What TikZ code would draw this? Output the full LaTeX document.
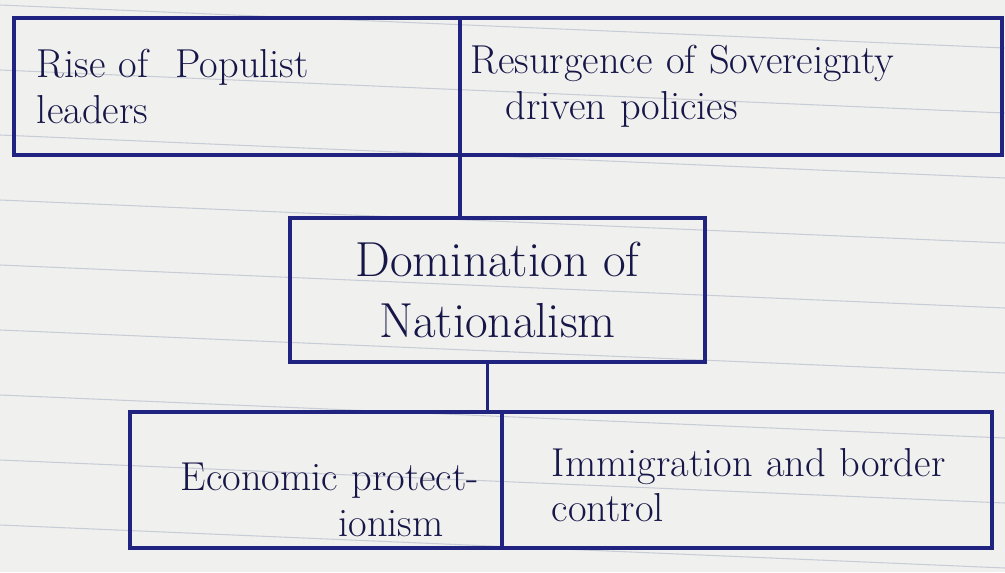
\documentclass[tikz,border=0pt]{standalone}
\usepackage{tikz}
\usetikzlibrary{positioning}
\definecolor{ink}{RGB}{32,36,128}
\definecolor{pen}{RGB}{22,22,72}
\definecolor{paper}{RGB}{240,240,238}
\definecolor{ruling}{RGB}{200,204,214}
\tikzset{
  cell/.style={draw=ink, line width=2pt, outer sep=0pt, inner ysep=4pt,
    align=left, text=pen, font=\fontsize{23}{26}\selectfont},
  link/.style={draw=ink, line width=2pt}
}
\begin{document}
\begin{tikzpicture}[x=0.02cm, y=-0.02cm]
		%%%%% PAPER %%%%%
		\fill[paper] (0, 0) rectangle (1005, 572);
		\useasboundingbox (0, 0) rectangle (1005, 572);
		\foreach \k in {0,...,8}
			\draw[ruling, line width=0.6pt] (0, {5+65*\k}) -- (1005, {48+65*\k});
		
		%%%%% TOP ROW %%%%%
		\node[cell, anchor=north west, minimum width=8.92cm, minimum height=2.74cm,
			text width=8.0cm] (rise) at (14, 18) {Rise of \ Populist\\leaders\\[-8pt]};
		\node[cell, minimum width=10.84cm, minimum height=2.74cm,
			text width=10.4cm, right=0pt of rise.north east, anchor=north west] (resurgence)
			{Resurgence of Sovereignty\\\hspace*{0.7cm}driven policies\\[-8pt]};
		
		%%%%% CENTRE %%%%%
		\node[cell, anchor=north west, minimum width=8.3cm, minimum height=2.88cm,
			align=center, font=\fontsize{28}{35}\selectfont] (nation) at (290, 218)
			{Domination of\\Nationalism};
		
		%%%%% BOTTOM ROW %%%%%
		\node[cell, anchor=north west, minimum width=7.44cm, minimum height=2.72cm,
			text width=6.9cm] (econ) at (130, 412)
			{\mbox{}\\[12pt]\hspace*{0.75cm}Economic protect-\\\hspace*{3.9cm}ionism};
		\node[cell, minimum width=9.8cm, minimum height=2.72cm,
			text width=8.8cm, right=0pt of econ.north east, anchor=north west] (immig)
			{\mbox{}\\[-4pt]\hspace*{0.5cm}Immigration and border\\\hspace*{0.5cm}control};
		
		%%%%% LINKS %%%%%
		\draw[link] (rise.south east) -- (rise.south east |- nation.north);
		\draw[link] ([xshift=-0.2cm]nation.south) -- ([xshift=-0.2cm]nation.south |- econ.north);
		
		%%%%% END %%%%%
\end{tikzpicture}
\end{document}
